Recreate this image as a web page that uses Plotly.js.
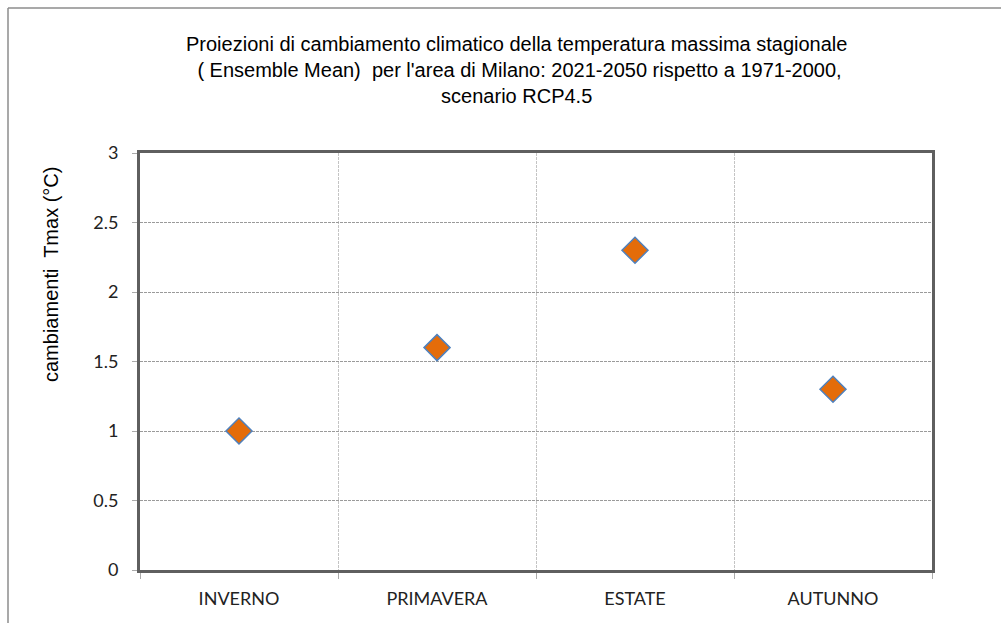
<!DOCTYPE html>
<html>
<head>
<meta charset="utf-8">
<script src="https://cdn.plot.ly/plotly-3.0.1.min.js"></script>
<style>html,body{margin:0;padding:0;background:#fff;}#chart{width:1001px;height:623px;}</style>
</head>
<body>
<div id="chart"></div>
<script>
const seasons = ["INVERNO", "PRIMAVERA", "ESTATE", "AUTUNNO"];
const tmaxChange = [1.0, 1.6, 2.3, 1.3];
const yTicks = [0, 0.5, 1, 1.5, 2, 2.5, 3];
const yTickLabels = ["0", "0.5", "1", "1.5", "2", "2.5", "3"];
const chartTitle = "Proiezioni di cambiamento climatico della temperatura massima stagionale<br> ( Ensemble Mean)  per l'area di Milano: 2021-2050 rispetto a 1971-2000,<br>scenario RCP4.5";
const yTitle = 'cambiamenti  Tmax (°C)';

const W = 1001, H = 623;
const m = {l: 140, r: 69, t: 153, b: 53};
const pw = W - m.l - m.r, ph = H - m.t - m.b;
const px = v => (v - m.l) / pw;
const py = v => (H - m.b - v) / ph;

const trace = {
  x: seasons,
  y: tmaxChange,
  type: 'scatter',
  mode: 'markers',
  marker: {symbol: 'diamond', size: 20, color: '#E46C0A', line: {color: '#4F81BD', width: 1.5}},
  hoverinfo: 'x+y'
};

const layout = {
  width: W, height: H,
  margin: m,
  paper_bgcolor: '#fff', plot_bgcolor: '#fff',
  showlegend: false,
  xaxis: {
    type: 'category',
    range: [-0.5, 3.5],
    tickson: 'boundaries',
    ticks: 'outside', ticklen: 6, tickcolor: '#aaa', tickwidth: 1,
    ticklabelstandoff: 10,
    showgrid: true, gridcolor: '#c4c4c4', griddash: '3px,1px', gridwidth: 1,
    showline: true, linecolor: '#5f5f5f', linewidth: 3, mirror: true,
    zeroline: false,
    tickfont: {family: 'Lato, Open Sans, sans-serif', size: 18, color: '#222'},
    fixedrange: true
  },
  yaxis: {
    range: [0, 3],
    tickvals: yTicks, ticktext: yTickLabels,
    ticks: 'outside', ticklen: 5, tickcolor: '#aaa', tickwidth: 1,
    ticklabelstandoff: 10,
    showgrid: true, gridcolor: '#9a9a9a', griddash: '3px,1px', gridwidth: 1,
    showline: true, linecolor: '#5f5f5f', linewidth: 3, mirror: true,
    zeroline: false,
    tickfont: {family: 'Lato, Open Sans, sans-serif', size: 18, color: '#222'},
    fixedrange: true
  },
  annotations: [
    {text: chartTitle, xref: 'paper', yref: 'paper', x: px(516), y: py(70), xanchor: 'center', yanchor: 'middle',
     align: 'center', showarrow: false, font: {family: 'Liberation Sans, Arial, sans-serif', size: 20, color: '#000'}},
    {text: yTitle, xref: 'paper', yref: 'paper', x: px(51), y: py(275), xanchor: 'center', yanchor: 'middle',
     textangle: -90, showarrow: false, font: {family: 'Liberation Sans, Arial, sans-serif', size: 20, color: '#000'}}
  ],
  shapes: [
    {type: 'line', xref: 'paper', yref: 'paper', x0: px(8), x1: px(1001), y0: py(8), y1: py(8), line: {color: '#8c8c8c', width: 1.5}},
    {type: 'line', xref: 'paper', yref: 'paper', x0: px(8), x1: px(8), y0: py(8), y1: py(623), line: {color: '#8c8c8c', width: 1.5}}
  ]
};

Plotly.newPlot('chart', [trace], layout, {displayModeBar: false, responsive: false});
</script>
</body>
</html>
